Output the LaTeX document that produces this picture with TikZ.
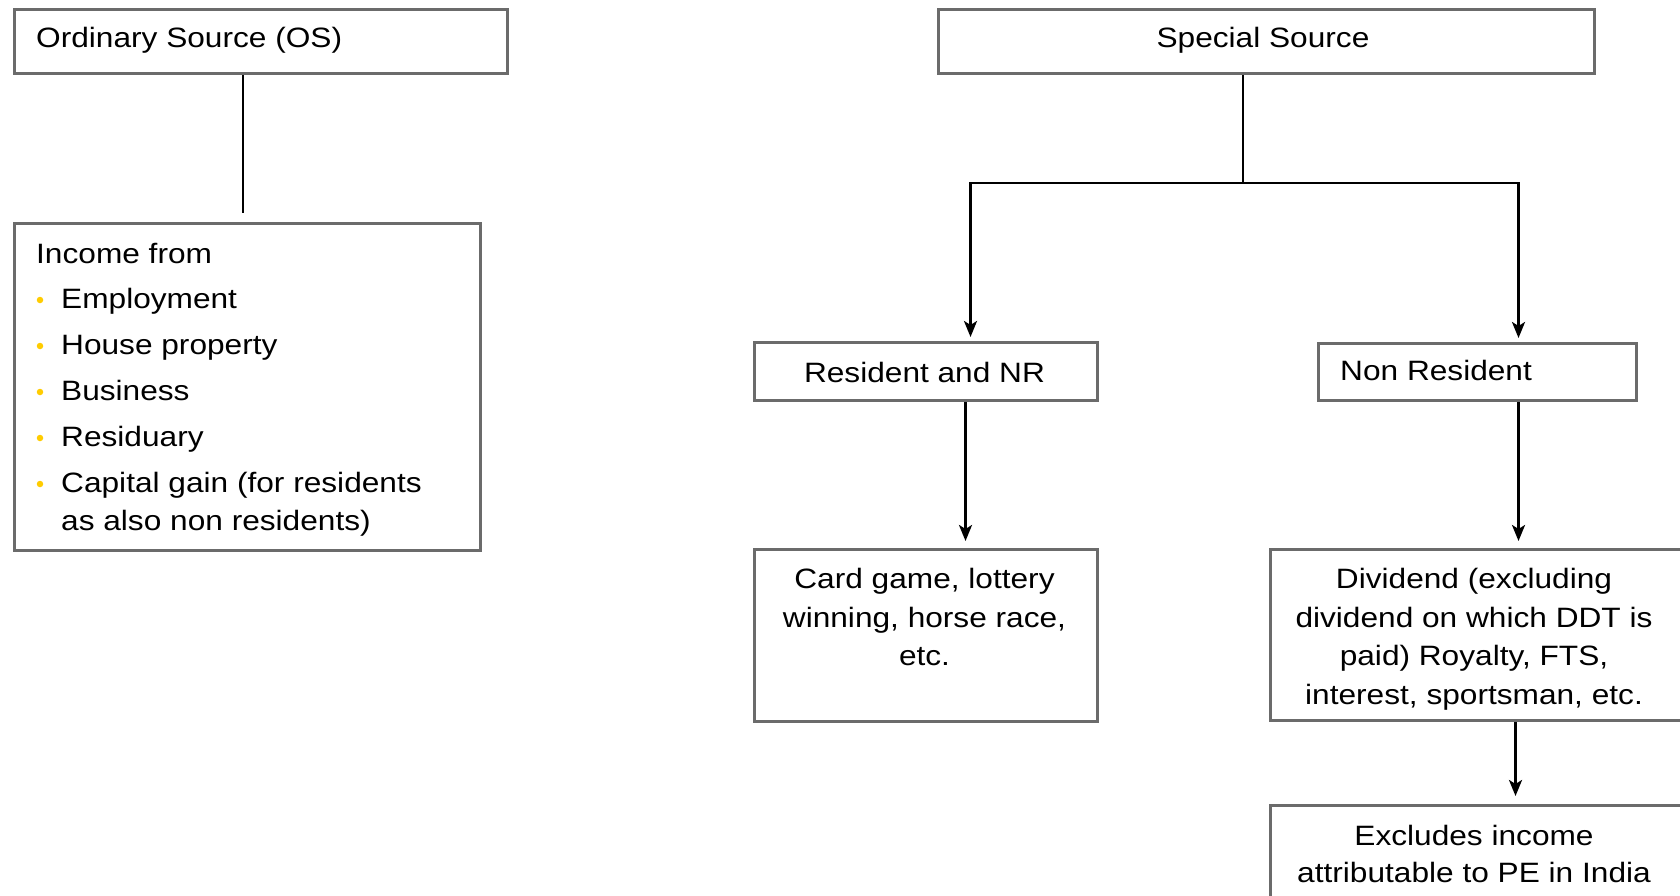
\documentclass[tikz,border=0pt]{standalone}
\usepackage{fontspec}
\setmainfont{Liberation Sans}[FakeStretch=1.13]
\usetikzlibrary{arrows.meta}
\definecolor{boxgray}{HTML}{6B6B6B}
\definecolor{bulletgold}{HTML}{FFCC00}
\begin{document}
\begin{tikzpicture}[x=1pt,y=-1pt,
  box/.style={draw=boxgray,line width=3pt,fill=white,inner sep=0pt,anchor=north west},
  txt/.style={font=\fontsize{28}{34}\selectfont,inner sep=0pt,text=black},
  conn/.style={line width=2.6pt,draw=black},
  arr/.style={conn,-{Stealth[length=16pt,width=13pt,inset=4pt]}},
  bdot/.style={circle,fill=bulletgold,inner sep=0pt,minimum size=6.5pt}]
\useasboundingbox (0,0) rectangle (1680,896);
\clip (0,0) rectangle (1680,896);
\fill[white] (0,0) rectangle (1680,896);

% boxes
\node[box,minimum width=493pt,minimum height=64pt] (os) at (13,8) {};
\node[box,minimum width=466pt,minimum height=327pt] (income) at (13,222) {};
\node[box,minimum width=656pt,minimum height=64pt] (ss) at (937,8) {};
\node[box,minimum width=343pt,minimum height=58pt] (res) at (753,341) {};
\node[box,minimum width=318pt,minimum height=57pt] (nr) at (1317,342) {};
\node[box,minimum width=343pt,minimum height=172pt] (card) at (753,548) {};
\node[box,minimum width=420pt,minimum height=171pt] (div) at (1269,548) {};
\node[box,minimum width=420pt,minimum height=150pt] (exc) at (1269,804) {};

% texts
\node[txt,anchor=base west] (ost) at (36,48) {Ordinary Source (OS)};
\node[txt,anchor=base west] (inc0) at (36,263) {Income from};
\node[txt,anchor=base west] (inc1) at (61,308) {Employment};
\node[txt,anchor=base west] (inc2) at (61,354) {House property};
\node[txt,anchor=base west] (inc3) at (61,400) {Business};
\node[txt,anchor=base west] (inc4) at (61,446) {Residuary};
\node[txt,anchor=base west] (inc5) at (61,492) {Capital gain (for residents};
\node[txt,anchor=base west] (inc6) at (61,530) {as also non residents)};
\node[bdot] (b1) at (40,300) {};
\node[bdot] (b2) at (40,346) {};
\node[bdot] (b3) at (40,392) {};
\node[bdot] (b4) at (40,438) {};
\node[bdot] (b5) at (40,484) {};

\node[txt,anchor=base] (sst) at (1263,48) {Special Source};
\node[txt,anchor=base] (rest) at (924.5,382) {Resident and NR};
\node[txt,anchor=base west] (nrt) at (1340,380) {Non Resident};

\node[txt,anchor=base] (card1) at (924.5,588) {Card game, lottery};
\node[txt,anchor=base] (card2) at (924.5,627) {winning, horse race,};
\node[txt,anchor=base] (card3) at (924.5,665) {etc.};

\node[txt,anchor=base] (div1) at (1474,588) {Dividend (excluding};
\node[txt,anchor=base] (div2) at (1474,627) {dividend on which DDT is};
\node[txt,anchor=base] (div3) at (1474,665) {paid) Royalty, FTS,};
\node[txt,anchor=base] (div4) at (1474,704) {interest, sportsman, etc.};

\node[txt,anchor=base] (exc1) at (1474,845) {Excludes income};
\node[txt,anchor=base] (exc2) at (1474,882) {attributable to PE in India};

% connectors
\coordinate (osend) at (243,213);
\draw[conn] (os.south -| osend) -- (osend);

\coordinate (jn) at (1243,183);
\draw[conn] (ss.south -| jn) -- (jn);
\draw[arr,shorten >=4pt] (jn) -| ([xshift=44.5pt]res.north);
\draw[arr,shorten >=4pt] (jn) -| ([xshift=41pt]nr.north);

\draw[arr,shorten >=7pt] ([xshift=39.5pt]res.south) -- ([xshift=39.5pt]card.north);
\draw[arr,shorten >=7pt] ([xshift=41pt]nr.south) -- ([xshift=41pt]nr.south |- div.north);
\draw[arr,shorten >=8pt] ([xshift=35pt]div.south) -- ([xshift=35pt]div.south |- exc.north);
\end{tikzpicture}
\end{document}
